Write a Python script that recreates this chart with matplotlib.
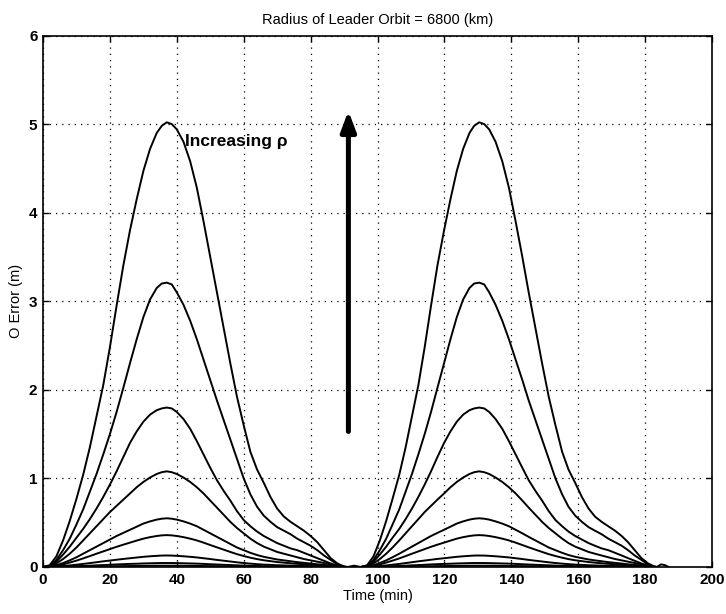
import matplotlib
matplotlib.use("Agg")
import matplotlib.pyplot as plt

# ---- data ----
# first orbit sample times (min)
T1 = [0, 2, 4, 6, 8, 10, 12, 14, 16, 18, 20, 22, 24, 26, 28, 30, 32, 34, 35.5, 37,
      38.5, 40, 42, 44, 46, 48, 50, 52, 54, 56, 58, 60, 62, 64, 66, 68, 70, 72, 74, 76,
      78, 80, 82, 84, 86, 88, 90, 91]
# second orbit sample times (min)
T2 = [95.0, 96.9, 98.8, 100.7, 102.6, 104.5, 106.5, 108.4, 110.3, 112.2, 114.1, 116.0,
      117.9, 119.9, 121.8, 123.7, 125.6, 127.5, 128.9, 130.4,
      131.9, 133.4, 135.3, 137.3, 139.3, 141.3, 143.3, 145.2, 147.2, 149.2, 151.2,
      153.2, 155.2, 157.1, 159.1, 161.1, 163.1, 165.0, 167.0, 169.0, 171.0, 173.0,
      174.9, 176.9, 178.9, 180.9, 182.8, 183.5]

A1 = [0, 0.02, 0.12, 0.3, 0.52, 0.77, 1.04, 1.35, 1.7, 2.05,
      2.48, 2.95, 3.4, 3.8, 4.15, 4.47, 4.72, 4.9, 4.98, 5.02,
      5.0, 4.94, 4.8, 4.58, 4.28, 3.9, 3.5, 3.1, 2.7, 2.3,
      1.92, 1.6, 1.3, 1.1, 0.95, 0.79, 0.66, 0.57, 0.51, 0.46,
      0.41, 0.35, 0.28, 0.19, 0.1, 0.04, 0.005, 0]
B1 = [0, 0.01, 0.08, 0.19, 0.32, 0.48, 0.65, 0.85, 1.05, 1.27,
      1.5, 1.75, 2.02, 2.3, 2.57, 2.82, 3.02, 3.15, 3.2, 3.21,
      3.19, 3.1, 2.96, 2.78, 2.57, 2.34, 2.11, 1.88, 1.66, 1.44,
      1.22, 1.0, 0.82, 0.68, 0.58, 0.51, 0.45, 0.41, 0.37, 0.32,
      0.28, 0.24, 0.19, 0.13, 0.08, 0.03, 0.004, 0]
C1 = [0, 0.01, 0.06, 0.14, 0.23, 0.33, 0.43, 0.54, 0.66, 0.79,
      0.93, 1.08, 1.24, 1.4, 1.53, 1.64, 1.72, 1.77, 1.79, 1.8,
      1.79, 1.75, 1.67, 1.56, 1.42, 1.27, 1.12, 0.98, 0.86, 0.75,
      0.63, 0.53, 0.46, 0.4, 0.35, 0.31, 0.27, 0.24, 0.21, 0.19,
      0.16, 0.13, 0.1, 0.07, 0.04, 0.015, 0.002, 0]
D1 = [0, 0.01, 0.04, 0.09, 0.15, 0.22, 0.3, 0.38, 0.46, 0.54,
      0.62, 0.69, 0.76, 0.83, 0.9, 0.96, 1.01, 1.05, 1.07, 1.08,
      1.07, 1.05, 1.01, 0.96, 0.9, 0.83, 0.75, 0.67, 0.59, 0.51,
      0.44, 0.38, 0.32, 0.27, 0.23, 0.2, 0.17, 0.15, 0.13, 0.11,
      0.09, 0.075, 0.06, 0.045, 0.03, 0.012, 0.002, 0]
E1 = [0, 0.005, 0.02, 0.045, 0.075, 0.11, 0.15, 0.19, 0.23, 0.27,
      0.31, 0.35, 0.385, 0.42, 0.455, 0.49, 0.515, 0.535, 0.545, 0.55,
      0.545, 0.535, 0.515, 0.49, 0.46, 0.42, 0.38, 0.34, 0.3, 0.26,
      0.22, 0.19, 0.16, 0.135, 0.115, 0.1, 0.085, 0.075, 0.065, 0.055,
      0.047, 0.039, 0.031, 0.023, 0.015, 0.006, 0.001, 0]
F1 = [0, 0.003, 0.013, 0.03, 0.05, 0.072, 0.097, 0.123, 0.15, 0.176,
      0.202, 0.228, 0.252, 0.275, 0.298, 0.32, 0.337, 0.35, 0.357, 0.36,
      0.357, 0.35, 0.337, 0.32, 0.3, 0.275, 0.248, 0.222, 0.196, 0.17,
      0.145, 0.124, 0.105, 0.089, 0.076, 0.066, 0.056, 0.049, 0.042, 0.036,
      0.031, 0.025, 0.02, 0.015, 0.01, 0.004, 0.001, 0]
G1 = [0, 0.001, 0.005, 0.011, 0.018, 0.026, 0.035, 0.044, 0.054, 0.064,
      0.073, 0.082, 0.091, 0.099, 0.107, 0.115, 0.121, 0.126, 0.129, 0.13,
      0.129, 0.126, 0.121, 0.115, 0.108, 0.099, 0.09, 0.08, 0.071, 0.062,
      0.053, 0.045, 0.038, 0.032, 0.027, 0.024, 0.02, 0.018, 0.015, 0.013,
      0.011, 0.009, 0.007, 0.005, 0.004, 0.002, 0, 0]
H1 = [0, 0, 0.002, 0.004, 0.006, 0.009, 0.012, 0.015, 0.019, 0.022,
      0.025, 0.029, 0.032, 0.035, 0.037, 0.04, 0.042, 0.044, 0.045, 0.045,
      0.045, 0.044, 0.042, 0.04, 0.038, 0.035, 0.031, 0.028, 0.025, 0.022,
      0.019, 0.016, 0.013, 0.011, 0.009, 0.008, 0.007, 0.006, 0.005, 0.005,
      0.004, 0.003, 0.002, 0.002, 0.001, 0.001, 0, 0]
I1 = [0, 0, 0.001, 0.001, 0.002, 0.003, 0.004, 0.005, 0.006, 0.007,
      0.008, 0.009, 0.01, 0.011, 0.012, 0.013, 0.014, 0.015, 0.015, 0.015,
      0.015, 0.015, 0.014, 0.013, 0.012, 0.011, 0.01, 0.009, 0.008, 0.007,
      0.006, 0.005, 0.004, 0.004, 0.003, 0.003, 0.002, 0.002, 0.002, 0.001,
      0.001, 0.001, 0.001, 0, 0, 0, 0, 0]

# second orbit reads the same as the first
A2, B2, C2, D2, E2, F2, G2, H2, I2 = A1, B1, C1, D1, E1, F1, G1, H1, I1

GAP_T = [91, 93, 95]
GAP_V = [0, 0.015, 0]
TAIL_T = [183.5, 184.8, 186, 187]
TAIL_V = [0, 0.03, 0.02, 0]

X_TICKS = [0, 20, 40, 60, 80, 100, 120, 140, 160, 180, 200]
Y_TICKS = [0, 1, 2, 3, 4, 5, 6]

# ---- figure ----
plt.rcParams['font.family'] = ['Liberation Sans', 'DejaVu Sans']
fig = plt.figure(figsize=(7.26, 6.14), dpi=100)
ax = fig.add_axes([43 / 726, 47 / 614, 669 / 726, 531.5 / 614])

hump1 = [A1, B1, C1, D1, E1, F1, G1, H1, I1]
hump2 = [A2, B2, C2, D2, E2, F2, G2, H2, I2]
for v1, v2 in zip(hump1, hump2):
    ax.plot(T1 + T2, v1 + v2, color='black', lw=1.4, solid_joinstyle='round')
ax.plot(GAP_T, GAP_V, color='black', lw=1.4)
ax.plot(TAIL_T, TAIL_V, color='black', lw=1.4)

ax.set_xlim(0, 200)
ax.set_ylim(0, 6)
ax.set_xticks(X_TICKS)
ax.set_yticks(Y_TICKS)
ax.set_xticklabels([str(v) for v in X_TICKS], fontweight='bold', fontsize=11)
ax.set_yticklabels([str(v) for v in Y_TICKS], fontweight='bold', fontsize=11)
ax.tick_params(direction='in', length=4, width=1, top=True, right=True, pad=4)
ax.grid(True, color='black', linestyle=(0, (1, 4)), linewidth=0.9)
for s in ax.spines.values():
    s.set_linewidth(1.2)

ax.set_title('Radius of Leader Orbit = 6800 (km)', fontsize=10.5, pad=8)
ax.set_xlabel('Time (min)', fontsize=10.5, labelpad=2)
ax.set_ylabel('O Error (m)', fontsize=10.5, labelpad=4)

ax.annotate('', xy=(91.3, 5.15), xytext=(91.3, 1.53),
            arrowprops=dict(arrowstyle='-|>,head_length=0.8,head_width=0.3',
                            lw=3.6, color='black', shrinkA=0, shrinkB=0,
                            mutation_scale=15))
ax.text(42.6, 4.80, 'Increasing ρ', fontsize=12.5, fontweight='bold', va='center', ha='left')

fig.savefig('out.png', dpi=100)
